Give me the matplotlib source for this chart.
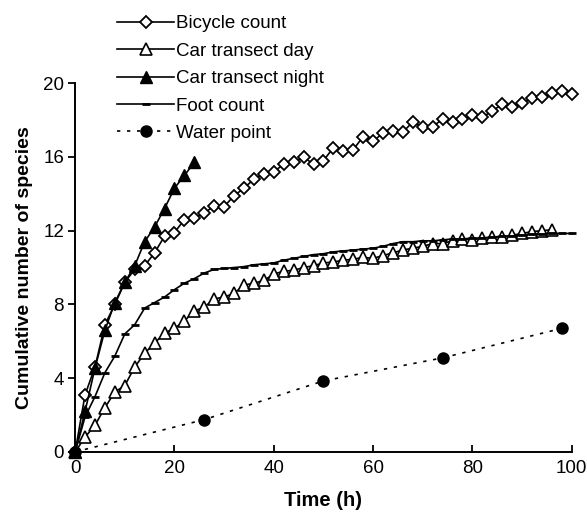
import matplotlib
matplotlib.use("Agg")
import matplotlib.pyplot as plt
import numpy as np

plt.rcParams['font.family'] = ['Liberation Sans', 'DejaVu Sans']

# time in hours (every 2 h)
hours = list(range(0, 101, 2))

bicycle = [0, 3.1, 4.6, 6.9, 8.0, 9.2, 9.9, 10.1, 10.8, 11.7,
           11.9, 12.6, 12.7, 12.95, 13.35, 13.3, 13.9, 14.3, 14.8, 15.1,
           15.2, 15.6, 15.7, 16.0, 15.6, 15.8, 16.5, 16.3, 16.4, 17.1,
           16.85, 17.3, 17.4, 17.35, 17.9, 17.6, 17.65, 18.05, 17.9, 18.05,
           18.25, 18.15, 18.5, 18.85, 18.7, 18.9, 19.2, 19.25, 19.45, 19.6,
           19.4]

car_day = [0, 0.8, 1.45, 2.4, 3.25, 3.6, 4.6, 5.35, 5.9, 6.45,
           6.7, 7.1, 7.65, 7.85, 8.3, 8.4, 8.6, 9.05, 9.15, 9.3,
           9.65, 9.8, 9.85, 10.0, 10.1, 10.25, 10.3, 10.4, 10.45, 10.55,
           10.5, 10.65, 10.8, 10.95, 11.05, 11.15, 11.3, 11.3, 11.45, 11.55,
           11.5, 11.6, 11.65, 11.65, 11.75, 11.85, 11.95, 12.0, 12.05]

car_night = [0, 2.2, 4.55, 6.6, 8.1, 9.2, 10.1, 11.4, 12.2, 13.2,
             14.3, 15.0, 15.7]

foot = [0, 1.9, 3.0, 4.3, 5.2, 6.4, 6.9, 7.8, 8.1, 8.4,
        8.8, 9.15, 9.4, 9.7, 9.9, 9.95, 10.0, 10.05, 10.15, 10.2,
        10.25, 10.4, 10.5, 10.6, 10.7, 10.75, 10.85, 10.9, 10.95, 11.0,
        11.05, 11.15, 11.3, 11.4, 11.4, 11.45, 11.45, 11.5, 11.55, 11.55,
        11.6, 11.6, 11.65, 11.7, 11.7, 11.75, 11.8, 11.8, 11.85, 11.85,
        11.85]

water_hours = [0, 26, 50, 74, 98]
water = [0, 1.75, 3.85, 5.1, 6.7]

fig = plt.figure(figsize=(5.87, 5.2), dpi=100)
ax = fig.add_axes([0.128, 0.131, 0.846, 0.709])

ax.plot(hours[:len(bicycle)], bicycle, color='black', lw=1.2, marker='D',
        ms=6, mfc='white', mec='black', mew=1.3, label='Bicycle count', clip_on=False, zorder=3)
ax.plot(hours[:len(car_day)], car_day, color='black', lw=1.2, marker='^',
        ms=8, mfc='white', mec='black', mew=1.2, label='Car transect day', clip_on=False, zorder=3)
ax.plot(hours[:len(car_night)], car_night, color='black', lw=1.2, marker='^',
        ms=8, mfc='black', mec='black', label='Car transect night', clip_on=False, zorder=4)
ax.plot(hours[:len(foot)], foot, color='black', lw=1.2, marker='_',
        ms=6, mew=2, label='Foot count', clip_on=False, zorder=3)
ax.plot(water_hours, water, color='black', lw=1.2, ls=(0, (2, 4)), marker='o',
        ms=8, mfc='black', mec='black', label='Water point', clip_on=False, zorder=3)

ax.set_xlim(0, 100)
ax.set_ylim(0, 20)
ax.set_xticks(range(0, 101, 20))
ax.set_yticks(range(0, 21, 4))
ax.spines['top'].set_visible(False)
ax.spines['right'].set_visible(False)
ax.spines['left'].set_linewidth(1.4)
ax.spines['bottom'].set_linewidth(1.4)
ax.tick_params(axis='x', direction='in', length=5, width=1.3, labelsize=13.5, pad=6)
ax.tick_params(axis='y', direction='out', length=5, width=1.3, labelsize=13.5, pad=3)

ax.set_xlabel('Time (h)', fontsize=14.5, fontweight='bold', labelpad=10)
ax.set_ylabel('Cumulative number of species', fontsize=14, fontweight='bold', labelpad=7)

fig.legend(loc='upper left', bbox_to_anchor=(0.2, 0.971), frameon=False,
           fontsize=13.5, handlelength=3.0, handletextpad=0.15, labelspacing=0.55,
           borderpad=0, borderaxespad=0)

fig.savefig('out.png', dpi=100)
